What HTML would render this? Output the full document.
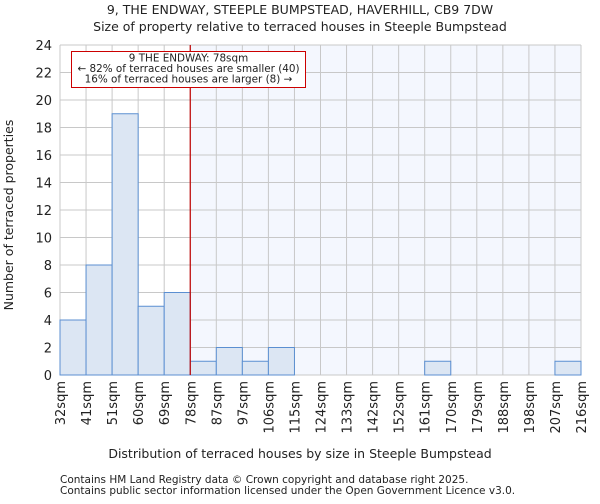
<!DOCTYPE html>
<html><head><meta charset="utf-8"><style>
body{margin:0;background:#fff;font-family:"DejaVu Sans","Liberation Sans",sans-serif;}
svg text{font-family:"DejaVu Sans","Liberation Sans",sans-serif;fill:#222;}
</style></head><body>
<svg id="c" width="600" height="500">
<text x="300" y="14" text-anchor="middle" font-size="12.5">9, THE ENDWAY, STEEPLE BUMPSTEAD, HAVERHILL, CB9 7DW</text>
<text x="300" y="31" text-anchor="middle" font-size="12.5">Size of property relative to terraced houses in Steeple Bumpstead</text>
<g id="plot"></g>
<text x="300" y="458" text-anchor="middle" font-size="12.5">Distribution of terraced houses by size in Steeple Bumpstead</text>
<text transform="translate(13,215) rotate(-90)" text-anchor="middle" font-size="12.5">Number of terraced properties</text>
<text x="60" y="483" font-size="10.5">Contains HM Land Registry data © Crown copyright and database right 2025.</text>
<text x="60" y="494" font-size="10.5">Contains public sector information licensed under the Open Government Licence v3.0.</text>
</svg>
<script>
const binLabels=["32sqm","41sqm","51sqm","60sqm","69sqm","78sqm","87sqm","97sqm","106sqm","115sqm","124sqm","133sqm","142sqm","152sqm","161sqm","170sqm","179sqm","188sqm","198sqm","207sqm","216sqm"];
const counts=[4,8,19,5,6,1,2,1,2,0,0,0,0,0,1,0,0,0,0,1];
const yTicks=[0,2,4,6,8,10,12,14,16,18,20,22,24];
const markerBin=5;
const annotation=["9 THE ENDWAY: 78sqm","← 82% of terraced houses are smaller (40)","16% of terraced houses are larger (8) →"];
const L=60,R=581,T=45,B=375,yMax=24;
const n=counts.length,bw=(R-L)/n;
const x=i=>L+i*bw, y=v=>B-(B-T)*v/yMax;
const ns="http://www.w3.org/2000/svg",g=document.getElementById('plot');
function mk(t,a){const e=document.createElementNS(ns,t);for(const k in a)e.setAttribute(k,a[k]);g.appendChild(e);return e;}
let e=mk('rect',{x:x(markerBin),y:T,width:R-x(markerBin),height:B-T,fill:'#f4f7fe'});


yTicks.forEach(v=>{let l=mk('line',{x1:L,x2:R,y1:y(v),y2:y(v),stroke:'#c8c8c8','stroke-width':1});


let t=mk('text',{x:L-8,y:y(v)+5,'text-anchor':'end','font-size':13});t.textContent=v;

});
binLabels.forEach((s,i)=>{let l=mk('line',{x1:x(i),x2:x(i),y1:T,y2:B,stroke:'#c8c8c8','stroke-width':1});


let t=mk('text',{transform:`translate(${x(i)+5},${B+6}) rotate(-90)`,'text-anchor':'end','font-size':13});t.textContent=s;

});
counts.forEach((c,i)=>{if(!c)return;let r=mk('rect',{x:x(i),y:y(c),width:bw,height:B-y(c),fill:'#dce6f3',stroke:'#5b8fd1','stroke-width':1});

});
e=mk('line',{x1:x(markerBin),x2:x(markerBin),y1:T,y2:B,stroke:'#c00000','stroke-width':1.2});


e=mk('rect',{x:71.5,y:51.5,width:234,height:36,fill:'#fff',stroke:'#cc0000','stroke-width':1});


annotation.forEach((s,i)=>{let t=mk('text',{x:188.5,y:61.5+i*10.5,'text-anchor':'middle','font-size':10.4});t.textContent=s;

});
</script>
</body></html>
